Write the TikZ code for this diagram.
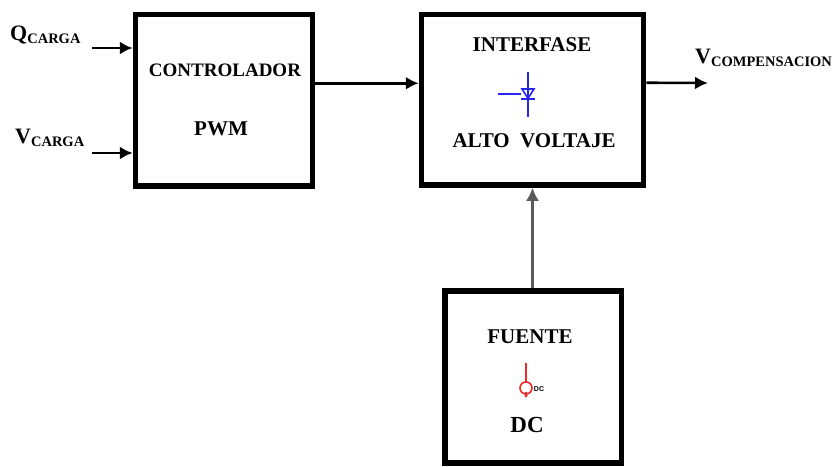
\documentclass[tikz,border=0pt]{standalone}
\usepackage{fontspec}
\setmainfont{Liberation Serif}
\setsansfont{Liberation Sans}
\usetikzlibrary{arrows.meta}
\usetikzlibrary{positioning}
\definecolor{SymBlue}{HTML}{2626F2}
\definecolor{SymRed}{HTML}{F02828}
\definecolor{LinkGray}{HTML}{5A5A5A}
\tikzset{
  block/.style={draw,line width=5.5pt,inner sep=0pt},
  blocktext/.style={font=\bfseries\fontsize{21}{24}\selectfont,inner sep=0pt},
  link/.style={line width=2.6pt,-{Latex[length=13pt,width=13pt]}},
  sym/.style={line width=1.6pt}
}
\newcommand{\sigvar}[2]{{\fontsize{22}{24}\selectfont #1}\raisebox{-3pt}{\fontsize{14.5}{16}\selectfont #2}}

\begin{document}
\begin{tikzpicture}[x=1pt,y=-1pt]
  \useasboundingbox (0,0) rectangle (840,466);

  % blocks
  \node[block,minimum width=177pt,minimum height=171.5pt] (ctrl)   at (224,100.25) {};
  \node[block,minimum width=222pt,minimum height=170.5pt] (inter)  at (532.5,99.75) {};
  \node[block,minimum width=176.5pt,minimum height=172pt] (fuente) at (533.25,377) {};

  % texts inside the blocks
  \node[blocktext,font=\bfseries\fontsize{19}{22}\selectfont] (ctrlA) at (225,70) {CONTROLADOR};
  \node[blocktext] (ctrlB)  at (221,129) {PWM};
  \node[blocktext] (interA) at (532,45) {INTERFASE};
  \node[blocktext] (interB) at (534,141) {ALTO\ \ VOLTAJE};
  \node[blocktext] (fuenteA) at (530,337) {FUENTE};
  \node[blocktext,font=\bfseries\fontsize{23}{26}\selectfont] (fuenteB) at (527,425) {DC};

  % inputs and output
  \coordinate (qin)  at (92,48);
  \coordinate (vin)  at (92,153);
  \coordinate (vout) at (708,83);
  \node[anchor=base west,inner sep=0pt,font=\bfseries] (qlabel) at (10,40) {\sigvar{Q}{CARGA}};
  \node[anchor=base west,inner sep=0pt,font=\bfseries] (vlabel) at (15,143) {\sigvar{V}{CARGA}};
  \node[anchor=base west,inner sep=0pt,font=\bfseries] (clabel) at (695,63) {\sigvar{V}{COMPENSACION}};

  \draw[link] (qin) -- (qin -| ctrl.west);
  \draw[link] (vin) -- (vin -| ctrl.west);
  \draw[link] ([yshift=17pt]ctrl.east) -- ([yshift=17pt]ctrl.east -| inter.west);
  \draw[link] ([yshift=17pt]inter.east) -- (vout);
  \draw[link,LinkGray,line width=2.2pt] (fuente.north -| inter.south) -- (inter.south);

  % switch symbol
  \draw[SymBlue,sym] (528,72) -- (528,117);
  \draw[SymBlue,sym] (498,94) -- (521,94);
  \draw[SymBlue,sym] (522,89) -- (534,89) -- (528,98.5) -- cycle;
  \draw[SymBlue,sym] (521,99) -- (535,99);

  % dc source symbol
  \draw[SymRed,sym] (526,363) -- (526,382);
  \draw[SymRed,sym] (526,388) circle (6);
  \draw[SymRed,sym,-{Latex[length=3pt,width=4pt]}] (526,392) -- (526,398);
  \node[font=\sffamily\bfseries\fontsize{7}{8}\selectfont,inner sep=0pt] (dcmark) at (539,389) {DC};
\end{tikzpicture}
\end{document}
